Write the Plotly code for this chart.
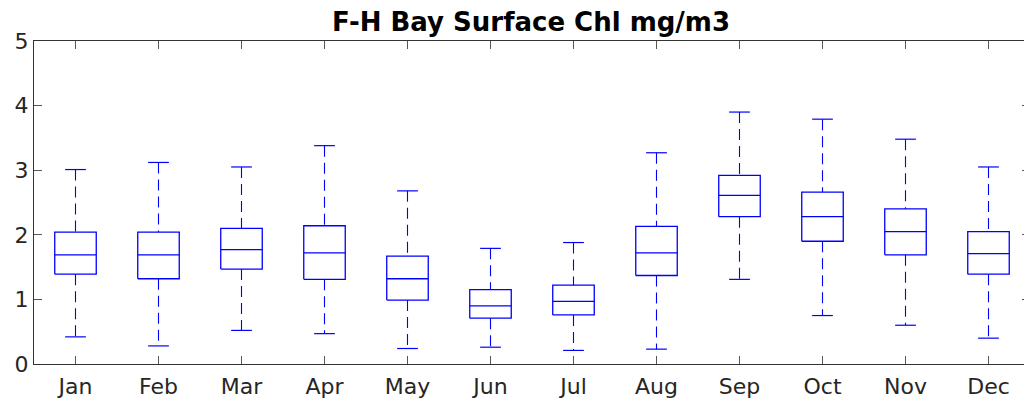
import plotly.graph_objects as go

months = ["Jan", "Feb", "Mar", "Apr", "May", "Jun", "Jul", "Aug", "Sep", "Oct", "Nov", "Dec"]
upper = [3.01, 3.12, 3.05, 3.38, 2.68, 1.79, 1.88, 3.27, 3.90, 3.79, 3.48, 3.05]
q3 = [2.04, 2.04, 2.10, 2.14, 1.67, 1.15, 1.22, 2.13, 2.92, 2.66, 2.40, 2.05]
median = [1.69, 1.69, 1.77, 1.72, 1.32, 0.90, 0.97, 1.72, 2.61, 2.28, 2.05, 1.71]
q1 = [1.39, 1.32, 1.47, 1.31, 0.99, 0.71, 0.76, 1.37, 2.28, 1.90, 1.69, 1.39]
lower = [0.42, 0.28, 0.52, 0.47, 0.24, 0.26, 0.21, 0.23, 1.31, 0.75, 0.60, 0.40]

BOX_HALF = 0.25
CAP_HALF = 0.125
BLUE = "#0000FF"

box_x, box_y = [], []
med_x, med_y = [], []
wh_x, wh_y = [], []
cap_x, cap_y = [], []
for i in range(len(months)):
    c = i + 1
    l, r = c - BOX_HALF, c + BOX_HALF
    box_x += [l, r, r, l, l, None]
    box_y += [q1[i], q1[i], q3[i], q3[i], q1[i], None]
    med_x += [l, r, None]
    med_y += [median[i], median[i], None]
    wh_x += [c, c, None, c, c, None]
    wh_y += [upper[i], q3[i], None, q1[i], lower[i], None]
    cap_x += [c - CAP_HALF, c + CAP_HALF, None, c - CAP_HALF, c + CAP_HALF, None]
    cap_y += [upper[i], upper[i], None, lower[i], lower[i], None]

fig = go.Figure()
fig.add_trace(go.Scatter(x=wh_x, y=wh_y, mode="lines",
                         line=dict(color=BLUE, width=1.1, dash="11px,6px"), hoverinfo="skip"))
fig.add_trace(go.Scatter(x=cap_x, y=cap_y, mode="lines",
                         line=dict(color=BLUE, width=1.2), hoverinfo="skip"))
fig.add_trace(go.Scatter(x=box_x, y=box_y, mode="lines",
                         line=dict(color=BLUE, width=1.3), hoverinfo="skip"))
fig.add_trace(go.Scatter(x=med_x, y=med_y, mode="lines",
                         line=dict(color=BLUE, width=1.3), hoverinfo="skip"))

W, H = 1024, 402
fig.update_layout(
    width=W, height=H,
    paper_bgcolor="white", plot_bgcolor="white",
    showlegend=False,
    margin=dict(l=26, r=2, t=33, b=46, autoexpand=False),
    font=dict(family="DejaVu Sans", size=22, color="#262626"),
    title=dict(text="<b>F-H Bay Surface Chl mg/m3</b>", x=523 / W, xref="container",
               xanchor="center", y=1 - 14 / H, yref="container", yanchor="middle",
               font=dict(size=26, color="#000000")),
)
fig.update_xaxes(range=[0.5, 12.5], tickvals=list(range(1, 13)), ticktext=months,
                 ticks="inside", ticklen=8, tickcolor="#555555", tickwidth=1,
                 showline=True, linecolor="#333333", linewidth=1, mirror="ticks",
                 showgrid=False, zeroline=False, fixedrange=True, automargin=False,
                 ticklabelstandoff=3)
fig.update_yaxes(range=[0, 5], tickvals=[0, 1, 2, 3, 4, 5],
                 ticks="inside", ticklen=8, tickcolor="#555555", tickwidth=1,
                 showline=True, linecolor="#333333", linewidth=1, mirror="ticks",
                 showgrid=False, zeroline=False, fixedrange=True, automargin=False)

fig.write_html("out.html")
